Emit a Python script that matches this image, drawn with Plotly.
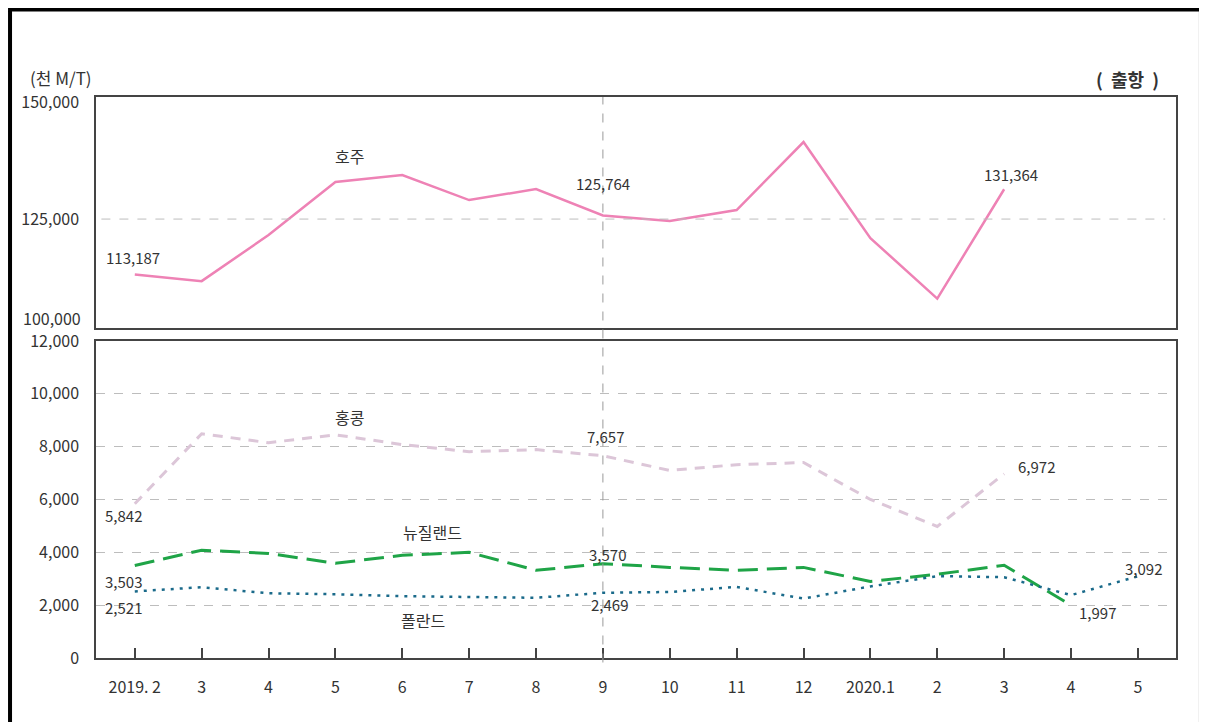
import plotly.graph_objects as go

# 월별 출항 물동량 (천 M/T)
months = ["2019. 2", "3", "4", "5", "6", "7", "8", "9", "10", "11", "12",
          "2020.1", "2", "3", "4", "5"]
australia = [113187, 111750, 121580, 132900, 134400, 129060, 131410, 125764,
             124600, 126920, 141450, 120940, 108010, 131364]
hongkong = [5842, 8490, 8150, 8450, 8080, 7810, 7890, 7657, 7100, 7320, 7400,
            6000, 4980, 6972]
new_zealand = [3503, 4080, 3960, 3585, 3890, 4000, 3320, 3570, 3430, 3320,
               3430, 2900, 3170, 3510, 1997]
poland = [2521, 2680, 2450, 2415, 2340, 2300, 2280, 2469, 2500, 2690, 2250,
          2710, 3100, 3060, 2380, 3092]

top_ticks = [125000, 150000]
bottom_ticks = [0, 2000, 4000, 6000, 8000, 10000, 12000]

FONT = "Noto Sans CJK KR"
TXT = "#333333"
AXIS = "#444444"
GRID = "#bdbdbd"

x_idx = list(range(len(months)))

fig = go.Figure()

fig.add_trace(go.Scatter(x=x_idx[:len(australia)], y=australia, mode="lines",
                         line=dict(color="#EE82B5", width=2.5),
                         xaxis="x2", yaxis="y2", name="호주"))
fig.add_trace(go.Scatter(x=x_idx[:len(hongkong)], y=hongkong, mode="lines",
                         line=dict(color="#DCC6D8", width=3, dash="10px,8px"),
                         name="홍콩"))
fig.add_trace(go.Scatter(x=x_idx[:len(new_zealand)], y=new_zealand, mode="lines",
                         line=dict(color="#1FA447", width=3, dash="20px,9px"),
                         name="뉴질랜드"))
fig.add_trace(go.Scatter(x=x_idx[:len(poland)], y=poland, mode="lines",
                         line=dict(color="#1A6A8A", width=2.5, dash="3px,6px"),
                         name="폴란드"))

xrange = [-0.58, 15.57]

# 페이지 여백(8px)을 감안한 여백
fig.update_layout(
    width=1207, height=722,
    margin=dict(l=88, r=39, t=89, b=72),
    paper_bgcolor="white", plot_bgcolor="white",
    showlegend=False,
    font=dict(family=FONT, size=15, color=TXT),
    xaxis=dict(range=xrange, tickvals=x_idx, ticktext=months,
               ticks="inside", ticklen=10, tickcolor=AXIS, tickwidth=1.5,
               showline=True, linecolor=AXIS, linewidth=2, mirror=True,
               showgrid=False, zeroline=False, ticklabelstandoff=14,
               tickfont=dict(size=16)),
    yaxis=dict(domain=[0, 0.565], range=[0, 12000], tickvals=bottom_ticks,
               tickformat=",d", showline=True, linecolor=AXIS, linewidth=1.5,
               mirror=True, showgrid=True, gridcolor=GRID, griddash="dash",
               gridwidth=1, zeroline=False, ticklabelstandoff=12,
               tickfont=dict(size=16)),
    xaxis2=dict(range=xrange, anchor="y2", showticklabels=False, ticks="",
                showline=True, linecolor=AXIS, linewidth=1.5, mirror=True,
                showgrid=False, zeroline=False),
    yaxis2=dict(domain=[0.588, 1], range=[101710, 151070], anchor="x2",
                tickvals=top_ticks, tickformat=",d", showline=True,
                linecolor=AXIS, linewidth=1.5, mirror=True, showgrid=False,
                zeroline=False, ticklabelstandoff=12, tickfont=dict(size=16)),
)

shapes = []
# 상단 격자선
for v in top_ticks[:-1]:
    shapes.append(dict(type="line", xref="x2 domain", yref="y2", x0=0.005, x1=0.99,
                       y0=v, y1=v, line=dict(color=GRID, width=1, dash="dash")))
# 기준월 세로선
shapes.append(dict(type="line", xref="x", yref="paper", x0=7, x1=7, y0=-0.008, y1=1,
                   line=dict(color="#999999", width=1, dash="dash")))
# 외곽 테두리
shapes.append(dict(type="rect", xref="paper", yref="paper", x0=-0.0796, x1=1.0231,
                   y0=-0.3, y1=1.1560, line=dict(color="black", width=4)))
fig.update_layout(shapes=shapes)

ann = []


def label(xr, yr, x, y, text, xs=0, ys=0, xa="center", size=15):
    ann.append(dict(xref=xr, yref=yr, x=x, y=y, text=text, showarrow=False,
                    xshift=xs, yshift=ys, xanchor=xa, yanchor="middle",
                    font=dict(family=FONT, size=size, color=TXT)))


# 호주 값
label("x2", "y2", 0, australia[0], f"{australia[0]:,}", -2, 17)
label("x2", "y2", 7, australia[7], f"{australia[7]:,}", 0, 32)
label("x2", "y2", 13, australia[13], f"{australia[13]:,}", 7, 15)
label("x2", "y2", 3, australia[3], "호주", 14, 26, size=16)

# 홍콩 값
label("x", "y", 0, hongkong[0], f"{hongkong[0]:,}", -11, -12)
label("x", "y", 7, hongkong[7], f"{hongkong[7]:,}", 3, 19)
label("x", "y", 13, hongkong[13], f"{hongkong[13]:,}", 12, 7, xa="left")
label("x", "y", 3, hongkong[3], "홍콩", 14, 18, size=16)

# 뉴질랜드 값
label("x", "y", 0, new_zealand[0], f"{new_zealand[0]:,}", -11, -16)
label("x", "y", 7, new_zealand[7], f"{new_zealand[7]:,}", 5, 9)
label("x", "y", 14, new_zealand[14], f"{new_zealand[14]:,}", 6, -7, xa="left")
label("x", "y", 5, new_zealand[5], "뉴질랜드", -37, 20, size=16)

# 폴란드 값
label("x", "y", 0, poland[0], f"{poland[0]:,}", -11, -16)
label("x", "y", 7, poland[7], f"{poland[7]:,}", 7, -12)
label("x", "y", 15, poland[15], f"{poland[15]:,}", 6, 8)
label("x", "y", 5, poland[5], "폴란드", -46, -23, size=16)

# 단위 및 구분
label("paper", "paper", -0.0324, 1.0356, "(천 M/T)", size=17)
label("paper", "paper", 0.955, 1.032, "<b>(  출항  )</b>", size=18)
label("paper", "paper", -0.012, 0.606, "100,000", xa="right", size=16)

fig.update_layout(annotations=ann)

fig.write_html("out.html")
